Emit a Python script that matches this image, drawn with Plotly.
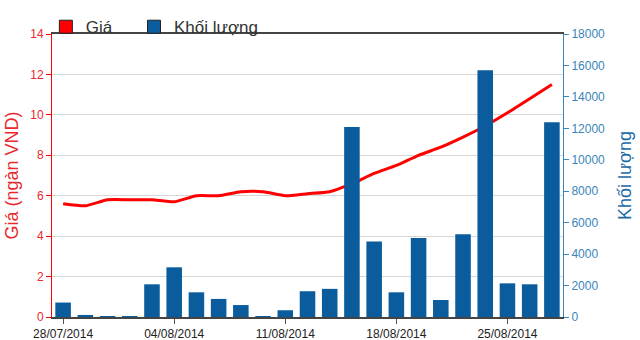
import plotly.graph_objects as go

dates = ["28/07/2014", "29/07/2014", "30/07/2014", "31/07/2014", "01/08/2014",
         "04/08/2014", "05/08/2014", "06/08/2014", "07/08/2014", "08/08/2014",
         "11/08/2014", "12/08/2014", "13/08/2014", "14/08/2014", "15/08/2014",
         "18/08/2014", "19/08/2014", "20/08/2014", "21/08/2014", "22/08/2014",
         "25/08/2014", "26/08/2014", "27/08/2014"]
price = [5.6, 5.5, 5.8, 5.8, 5.8, 5.7, 6.0, 6.0, 6.2, 6.2, 6.0, 6.1, 6.2,
         6.6, 7.1, 7.5, 8.0, 8.4, 8.9, 9.45, 10.1, 10.8, 11.5]
volume = [920, 130, 50, 50, 2080, 3160, 1570, 1150, 760, 50, 430, 1640, 1790,
          12090, 4810, 1570, 5020, 1080, 5260, 15690, 2140, 2080, 12380]
tick_dates = ["28/07/2014", "04/08/2014", "11/08/2014", "18/08/2014", "25/08/2014"]
price_ticks = [0, 2, 4, 6, 8, 10, 12, 14]
volume_ticks = [0, 2000, 4000, 6000, 8000, 10000, 12000, 14000, 16000, 18000]

RED = "#ff0000"
RED_TXT = "#e8282d"
BLUE = "#0a5c9c"
BLUE_TXT = "#3a85bb"

fig = go.Figure()
fig.add_trace(go.Bar(x=dates, y=volume, yaxis="y2", marker=dict(color=BLUE, line=dict(width=0)),
                     showlegend=False, name="Khối lượng"))
fig.add_trace(go.Scatter(x=dates, y=price, mode="lines", line=dict(color=RED, width=3, shape="spline", smoothing=0.5),
                         showlegend=False, name="Giá"))
# legend entries (square symbols)
fig.add_trace(go.Scatter(x=[None], y=[None], mode="markers", name="Giá", legend="legend",
                         marker=dict(symbol="square", size=13, color=RED, line=dict(color="#222", width=1))))
fig.add_trace(go.Scatter(x=[None], y=[None], mode="markers", name="Khối lượng", legend="legend2",
                         marker=dict(symbol="square", size=13, color=BLUE, line=dict(color="#222", width=1))))

leg_common = dict(orientation="h", xref="paper", xanchor="left", y=0.973, yanchor="top", yref="container",
                  font=dict(size=17, color="#333"), itemwidth=30, bgcolor="rgba(0,0,0,0)")

fig.update_layout(
    width=640, height=340,
    margin=dict(l=52, r=77, t=34, b=23, autoexpand=False),
    paper_bgcolor="white", plot_bgcolor="white",
    font=dict(family="Arial", size=12),
    bargap=0.3,
    legend=dict(x=-0.012, **leg_common),
    legend2=dict(x=0.1605, **leg_common),
    xaxis=dict(type="category", categoryorder="array", categoryarray=dates,
               tickmode="array", tickvals=tick_dates, ticktext=tick_dates,
               ticks="outside", ticklen=5, tickcolor="#555", showgrid=False,
               showline=True, linecolor="#444", linewidth=2, mirror=True,
               tickfont=dict(size=12, color="#222"), range=[-0.5, 22.5]),
    yaxis=dict(range=[0, 14], tickvals=price_ticks, showgrid=True, gridcolor="#d6d6d6",
               ticks="outside", ticklen=5, tickcolor=RED, showline=True, linecolor=RED, linewidth=1,
               tickfont=dict(size=12, color=RED_TXT), zeroline=False,
               title=dict(text="Giá (ngàn VND)", font=dict(size=18, color=RED_TXT), standoff=6)),
    yaxis2=dict(range=[0, 18000], tickvals=volume_ticks, tickformat="d", overlaying="y", side="right", showgrid=False,
                ticks="outside", ticklen=5, tickcolor=BLUE_TXT, showline=True, linecolor=BLUE_TXT, linewidth=1,
                tickfont=dict(size=12, color=BLUE_TXT), zeroline=False,
                title=dict(text="Khối lượng", font=dict(size=18, color="#1a6aa6"), standoff=14)),
)

fig.write_html("out.html")
